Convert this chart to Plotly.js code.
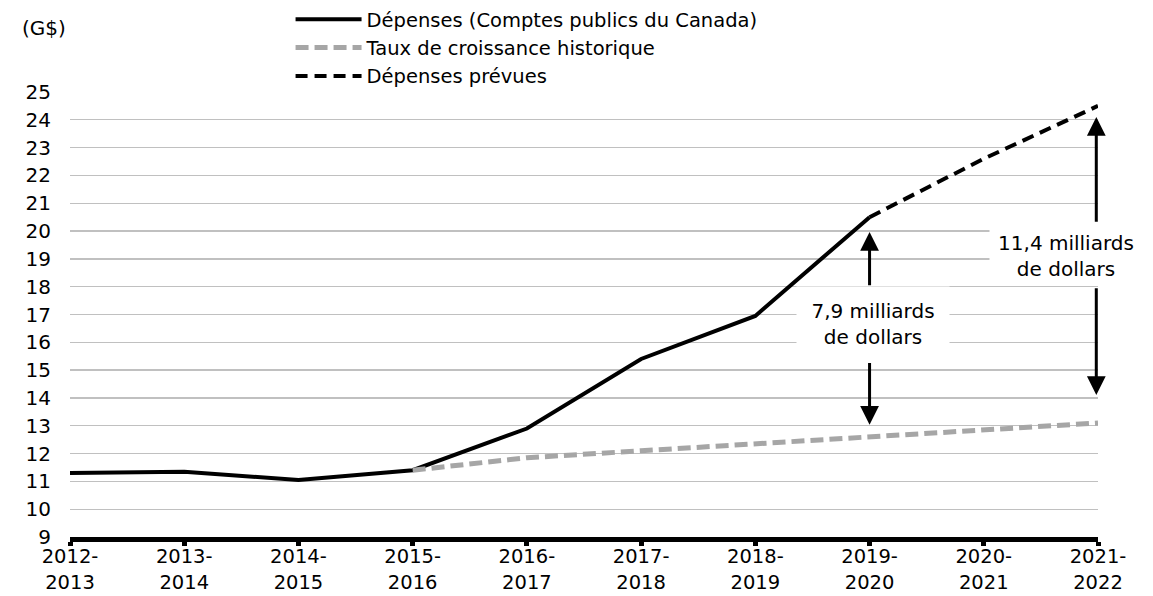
<!DOCTYPE html>
<html>
<head>
<meta charset="utf-8">
<script src="https://cdn.plot.ly/plotly-3.0.1.min.js"></script>
<style>
  html, body { margin: 0; padding: 0; background: #fff; }
  #chart { width: 1153px; height: 596px; }
</style>
</head>
<body>
<div id="chart"></div>
<script>
// ---- Data ----
const categories = ["2012-2013", "2013-2014", "2014-2015", "2015-2016", "2016-2017",
                    "2017-2018", "2018-2019", "2019-2020", "2020-2021", "2021-2022"];
const tickLabels = ["2012-<br>2013", "2013-<br>2014", "2014-<br>2015", "2015-<br>2016", "2016-<br>2017",
                    "2017-<br>2018", "2018-<br>2019", "2019-<br>2020", "2020-<br>2021", "2021-<br>2022"];

const depensesYears = categories.slice(0, 8);
const depenses = [11.3, 11.35, 11.05, 11.4, 12.9, 15.4, 16.95, 20.5];

const tauxYears = categories.slice(3);
const tauxHistorique = [11.4, 11.85, 12.1, 12.35, 12.6, 12.85, 13.1];

const prevuesYears = categories.slice(7);
const depensesPrevues = [20.5, 22.6, 24.5];

const seriesNames = ["Dépenses (Comptes publics du Canada)", "Taux de croissance historique", "Dépenses prévues"];
const yUnitLabel = "(G$)";
const gap1Label = "7,9 milliards<br>de dollars";
const gap2Label = "11,4 milliards<br>de dollars";

const FONT = "DejaVu Sans, Arial, sans-serif";

const traces = [
  {
    x: depensesYears, y: depenses, name: seriesNames[0], type: "scatter", mode: "lines",
    line: { color: "#000000", width: 4 }, hoverinfo: "x+y"
  },
  {
    x: tauxYears, y: tauxHistorique, name: seriesNames[1], type: "scatter", mode: "lines",
    line: { color: "#a6a6a6", width: 5, dash: "13px,6px" }, hoverinfo: "x+y"
  },
  {
    x: prevuesYears, y: depensesPrevues, name: seriesNames[2], type: "scatter", mode: "lines",
    line: { color: "#000000", width: 4, dash: "12px,7px" }, hoverinfo: "x+y"
  }
];

const arrowStyle = { showarrow: true, arrowhead: 2, arrowsize: 1.25, arrowwidth: 3, arrowcolor: "#000",
                     xref: "x", yref: "y", axref: "x", ayref: "y", text: "" };

const layout = {
  width: 1153, height: 596,
  margin: { l: 70, r: 55, t: 92, b: 59, pad: 0, autoexpand: false },
  paper_bgcolor: "#ffffff", plot_bgcolor: "#ffffff",
  font: { family: FONT, size: 20, color: "#000000" },
  showlegend: true,
  legend: {
    xref: "container", yref: "container",
    x: 0.252, y: 1.004, xanchor: "left", yanchor: "top",
    bgcolor: "rgba(0,0,0,0)", borderwidth: 0,
    font: { family: FONT, size: 19.5, color: "#000" },
    itemwidth: 66, tracegroupgap: 0
  },
  xaxis: {
    type: "category",
    categoryorder: "array", categoryarray: categories,
    range: [0, 9],
    tickvals: categories, ticktext: tickLabels, tickangle: 0,
    showgrid: false, zeroline: false,
    showline: true, linecolor: "#000", linewidth: 5,
    ticks: "outside", ticklen: 4, tickwidth: 5, tickcolor: "#000",
    ticklabelstandoff: -6,
    tickfont: { family: FONT, size: 19.5, color: "#000" }
  },
  yaxis: {
    range: [9, 25], dtick: 1, tick0: 9,
    showgrid: true, gridcolor: "#c0c0c0", gridwidth: 1.3,
    zeroline: false, showline: false, ticks: "",
    ticklabelstandoff: 18,
    tickfont: { family: FONT, size: 20, color: "#000" }
  },
  annotations: [
    { text: yUnitLabel, xref: "paper", yref: "paper", x: -0.049, y: 1.144, xanchor: "left", yanchor: "middle",
      showarrow: false, font: { family: FONT, size: 20, color: "#000" } },
    { text: gap1Label, xref: "x", yref: "y", x: 7.03, y: 16.66, showarrow: false,
      bgcolor: "#ffffff", width: 140, height: 62, borderpad: 6, align: "center",
      font: { family: FONT, size: 20, color: "#000" } },
    { text: gap2Label, xref: "x", yref: "y", x: 8.72, y: 19.1, showarrow: false,
      bgcolor: "#ffffff", width: 142, height: 46, borderpad: 5, align: "center",
      font: { family: FONT, size: 20, color: "#000" } },
    Object.assign({}, arrowStyle, { x: 7, y: 19.97, ax: 7, ay: 18.0 }),
    Object.assign({}, arrowStyle, { x: 7, y: 13.04, ax: 7, ay: 15.31 }),
    Object.assign({}, arrowStyle, { x: 8.985, y: 24.1, ax: 8.985, ay: 20.28 }),
    Object.assign({}, arrowStyle, { x: 8.985, y: 14.11, ax: 8.985, ay: 18.0 })
  ]
};

Plotly.newPlot("chart", traces, layout, { displayModeBar: false, staticPlot: true });
</script>
</body>
</html>
